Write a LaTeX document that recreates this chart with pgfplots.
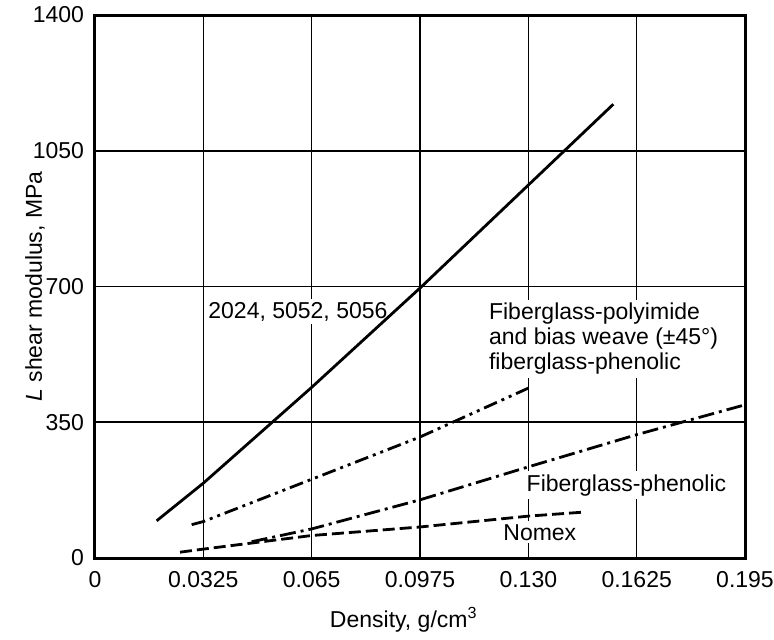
\documentclass[border=0pt]{standalone}
\usepackage{pgfplots}
\pgfplotsset{compat=1.18}
\usepackage{fontspec}
\setmainfont{Liberation Sans}
\begin{document}
\begin{tikzpicture}
\begin{axis}[name=ax, scale only axis, width=325pt, height=271.5pt,
  xmin=0, xmax=0.195, ymin=0, ymax=1400,
  xtick={0,0.0325,0.065,0.0975,0.130,0.1625,0.195},
  xticklabels={0,0.0325,0.065,0.0975,0.130,0.1625,0.195},
  ytick={0,350,700,1050,1400},
  grid=major, major grid style={black, line width=0.8pt},
  axis line style={black, line width=1.5pt},
  major tick length=0pt,
  tick label style={font=\fontsize{11.5}{13}\selectfont},
  xticklabel style={yshift=-3pt},
  yticklabel style={xshift=-2pt},
  /pgf/number format/assume math mode=true,
  /pgf/number format/1000 sep={},
  scaled x ticks=false,
  xlabel={Density, g/cm\textsuperscript{3}},
  ylabel={\textit{L} shear modulus, MPa},
  label style={font=\fontsize{11.5}{13}\selectfont},
  xlabel style={at={(axis description cs:0.475,-0.114)}, anchor=center},
  ylabel style={at={(axis description cs:-0.0923,0.5)}, anchor=center},
]
\node[fill=white, anchor=west, inner sep=1.5pt, font=\fontsize{11.5}{13}\selectfont] at (axis cs:0.0330,635) {2024, 5052, 5056};
\node[fill=white, anchor=west, align=left, inner sep=1.5pt, font=\fontsize{11.5}{12.5}\selectfont] at (axis cs:0.1172,565) {Fiberglass-polyimide\\and bias weave (±45°)\\fiberglass-phenolic};
\node[fill=white, anchor=west, inner sep=1.5pt, font=\fontsize{11.5}{13}\selectfont] at (axis cs:0.1285,188) {Fiberglass-phenolic};
\node[fill=white, anchor=west, inner sep=1.5pt, font=\fontsize{11.5}{13}\selectfont] at (axis cs:0.1215,66) {Nomex};

\addplot[black, line width=1.4pt] coordinates {
 (0.0185,96) (0.0325,193) (0.065,440) (0.098,700) (0.1555,1170)};
\addplot[black, line width=1.4pt, dash pattern=on 7pt off 2.5pt on 1.5pt off 2.5pt on 1.5pt off 2.5pt] coordinates {
 (0.029,86) (0.0325,94) (0.065,203) (0.0975,312) (0.130,438)};
\addplot[black, line width=1.4pt, dash pattern=on 8pt off 2.5pt on 1.5pt off 2.5pt] coordinates {
 (0.047,42) (0.065,75) (0.0975,150) (0.130,235) (0.1625,318) (0.195,395)};
\addplot[black, line width=1.4pt, dash pattern=on 6pt off 2.5pt] coordinates {
 (0.0255,15) (0.0325,23) (0.065,58) (0.0975,80) (0.130,108) (0.146,118)};
\end{axis}
\pgfresetboundingbox
\path (ax.south west) ++(-47.5pt,-40.5pt) coordinate (bbA);
\path (ax.north east) ++(14.5pt,7.5pt) coordinate (bbB);
\useasboundingbox (bbA) rectangle (bbB);
\end{tikzpicture}
\end{document}
